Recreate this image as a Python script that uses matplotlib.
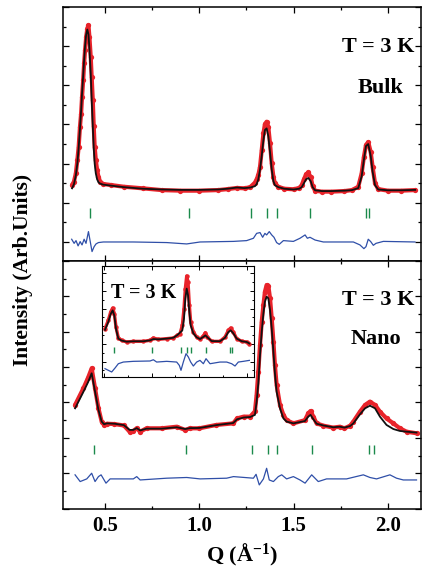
import numpy as np
import matplotlib.pyplot as plt
from matplotlib.ticker import MultipleLocator

# ---- Bulk (top panel) ----
q_bulk = [0.325, 0.335, 0.345, 0.353, 0.360, 0.367, 0.373, 0.378, 0.384, 0.389,
          0.394, 0.400, 0.406, 0.412, 0.417, 0.424, 0.429, 0.435, 0.440, 0.445,
          0.451, 0.458, 0.465, 0.474, 0.49, 0.53, 0.6, 0.7, 0.8, 0.9,
          1.0, 1.1, 1.15, 1.2, 1.24, 1.27, 1.295, 1.304, 1.313, 1.322,
          1.331, 1.340, 1.348, 1.357, 1.366, 1.375, 1.384, 1.393, 1.401, 1.419,
          1.45, 1.5, 1.53, 1.543, 1.555, 1.566, 1.578, 1.591, 1.601, 1.614,
          1.65, 1.7, 1.77, 1.81, 1.843, 1.861, 1.873, 1.884, 1.896, 1.909,
          1.919, 1.932, 1.949, 2.0, 2.07, 2.145]
obs_bulk = [2.91, 3.08, 3.5, 4.18, 4.86, 5.88, 6.56, 7.41, 8.27, 9.12,
            9.8, 10.48, 10.9, 11.07, 10.48, 9.46, 8.44, 7.24, 5.9, 4.86,
            4.18, 3.67, 3.33, 3.08, 2.96, 2.91, 2.82, 2.74, 2.65, 2.62,
            2.62, 2.65, 2.7, 2.76, 2.74, 2.8, 3.03, 3.2, 3.42, 3.84,
            4.69, 5.54, 6.02, 6.14, 5.88, 5.03, 4.01, 3.33, 2.99, 2.82,
            2.72, 2.69, 2.76, 2.9, 3.2, 3.45, 3.55, 3.3, 2.85, 2.62,
            2.57, 2.57, 2.6, 2.65, 2.82, 3.5, 4.35, 4.95, 5.1, 4.6,
            3.84, 3.0, 2.7, 2.62, 2.62, 2.65]
calc_bulk = [2.74, 2.95, 3.4, 4.0, 4.8, 5.8, 6.7, 7.6, 8.5, 9.3,
             10.0, 10.6, 10.85, 10.6, 9.9, 8.6, 7.3, 5.9, 4.8, 4.0,
             3.5, 3.2, 3.05, 2.98, 2.93, 2.88, 2.8, 2.72, 2.68, 2.66,
             2.66, 2.68, 2.72, 2.78, 2.75, 2.78, 2.85, 2.95, 3.2, 3.7,
             4.4, 5.2, 5.72, 5.8, 5.4, 4.6, 3.7, 3.1, 2.9, 2.8,
             2.72, 2.68, 2.72, 2.8, 3.0, 3.2, 3.27, 3.1, 2.8, 2.64,
             2.6, 2.6, 2.62, 2.65, 2.75, 3.35, 4.2, 4.9, 5.0, 4.4,
             3.6, 2.9, 2.68, 2.64, 2.64, 2.66]
q_bulk_diff = [0.323, 0.336, 0.346, 0.357, 0.368, 0.378, 0.389, 0.399, 0.412, 0.420,
               0.431, 0.442, 0.452, 0.465, 0.491, 0.650, 0.827, 0.933, 1.004, 1.181,
               1.251, 1.287, 1.304, 1.322, 1.336, 1.348, 1.357, 1.371, 1.384, 1.396,
               1.410, 1.424, 1.446, 1.499, 1.534, 1.561, 1.573, 1.587, 1.614, 1.658,
               1.817, 1.852, 1.873, 1.884, 1.896, 1.909, 1.923, 1.937, 1.976, 2.144]
diff_bulk = [0.14, -0.07, 0.07, -0.2, 0.02, -0.15, 0.14, -0.07, 0.53, 0.1,
             -0.49, -0.24, -0.1, -0.03, 0.0, 0.0, -0.03, -0.1, 0.0, 0.03,
             0.07, 0.19, 0.44, 0.48, 0.24, 0.44, 0.36, 0.53, 0.36, 0.24,
             -0.03, -0.12, 0.07, 0.03, 0.19, 0.36, 0.19, 0.24, 0.1, 0.0,
             0.0, -0.15, -0.34, -0.24, 0.14, 0.02, -0.17, -0.07, 0.03, 0.0]
bragg_bulk = [0.42, 0.945, 1.272, 1.357, 1.412, 1.587, 1.884, 1.90]

# ---- Nano (bottom panel) ----
q_nano = [0.341, 0.385, 0.41, 0.429, 0.447, 0.465, 0.482, 0.495, 0.51, 0.55,
          0.6, 0.63, 0.65, 0.668, 0.686, 0.72, 0.8, 0.88, 0.925, 0.95,
          1.0, 1.09, 1.18, 1.2, 1.235, 1.27, 1.295, 1.304, 1.313, 1.322,
          1.331, 1.340, 1.348, 1.357, 1.366, 1.375, 1.384, 1.393, 1.401, 1.410,
          1.428, 1.446, 1.463, 1.499, 1.56, 1.578, 1.59, 1.605, 1.622, 1.658,
          1.71, 1.745, 1.77, 1.8, 1.817, 1.852, 1.879, 1.905, 1.932, 1.958,
          1.993, 2.029, 2.064, 2.099, 2.152]
obs_nano = [3.86, 4.8, 5.4, 5.93, 4.8, 3.67, 2.92, 2.73, 2.8, 2.78,
            2.7, 2.35, 2.4, 2.54, 2.35, 2.54, 2.54, 2.63, 2.45, 2.54,
            2.54, 2.73, 2.82, 3.1, 3.2, 3.2, 3.5, 4.43, 5.74, 7.25,
            8.57, 9.51, 10.26, 10.64, 10.6, 9.9, 8.76, 7.44, 6.12, 5.0,
            3.86, 3.3, 3.0, 2.82, 3.0, 3.39, 3.52, 3.2, 2.82, 2.69,
            2.58, 2.63, 2.54, 2.69, 2.92, 3.48, 3.86, 4.05, 3.86, 3.48,
            3.1, 2.82, 2.54, 2.35, 2.26]
calc_nano = [3.67, 4.6, 5.15, 5.65, 4.61, 3.58, 2.92, 2.77, 2.82, 2.8,
             2.72, 2.45, 2.45, 2.55, 2.42, 2.52, 2.52, 2.6, 2.5, 2.55,
             2.56, 2.72, 2.84, 3.05, 3.15, 3.18, 3.3, 4.05, 5.08, 6.69,
             8.0, 9.04, 9.7, 9.98, 9.89, 9.23, 8.19, 6.87, 5.65, 4.61,
             3.67, 3.1, 2.92, 2.82, 2.95, 3.2, 3.3, 3.05, 2.8, 2.7,
             2.6, 2.63, 2.58, 2.67, 2.82, 3.33, 3.67, 3.82, 3.67, 3.2,
             2.73, 2.5, 2.39, 2.35, 2.3]
q_nano_diff = [0.341, 0.368, 0.403, 0.429, 0.447, 0.465, 0.479, 0.505, 0.527, 0.650,
               0.668, 0.686, 0.827, 0.933, 1.004, 1.145, 1.181, 1.287, 1.301, 1.318,
               1.340, 1.357, 1.371, 1.393, 1.419, 1.437, 1.463, 1.499, 1.534, 1.561,
               1.596, 1.631, 1.675, 1.781, 1.870, 1.905, 1.940, 2.011, 2.046, 2.082,
               2.152]
diff_nano = [-0.09, -0.47, -0.32, 0.0, -0.47, -0.19, -0.09, -0.56, -0.32, -0.32,
             -0.19, -0.38, -0.28, -0.24, -0.32, -0.28, -0.19, -0.28, -0.06, -0.66,
             -0.32, 0.28, -0.38, -0.47, -0.19, -0.09, -0.32, -0.19, -0.38, -0.56,
             -0.09, -0.47, -0.32, -0.32, -0.09, -0.24, -0.32, -0.09, -0.28, -0.38,
             -0.38]
bragg_nano = [0.443, 0.928, 1.281, 1.366, 1.412, 1.599, 1.90, 1.926]

# ---- Inset (nano, second data set) ----
x_inset = [10.17, 10.87, 11.37, 11.79, 12.14, 12.49, 12.98, 13.68, 14.73, 16.14,
           18.24, 19.65, 20.35, 21.4, 23.16, 24.56, 25.4, 25.96, 26.45, 26.8,
           27.08, 27.37, 27.65, 27.93, 28.21, 28.77, 29.47, 30.17, 30.88, 31.3,
           31.72, 32.63, 34.38, 35.44, 36.14, 36.63, 37.19, 37.89, 38.95, 40.0,
           40.56]
obs_inset = [3.73, 4.68, 5.63, 6.08, 5.44, 3.92, 2.67, 2.41, 2.22, 2.29,
             2.29, 2.41, 2.67, 2.52, 2.6, 2.67, 2.97, 3.16, 4.11, 6.0,
             8.28, 9.72, 9.03, 6.38, 4.49, 3.35, 2.78, 2.52, 2.9, 3.28,
             2.78, 2.29, 2.29, 2.78, 3.54, 3.81, 3.35, 2.6, 2.29, 2.22,
             2.03]
calc_inset = [3.6, 4.5, 5.4, 5.81, 5.2, 3.7, 2.6, 2.38, 2.25, 2.3,
              2.3, 2.4, 2.55, 2.52, 2.6, 2.7, 3.0, 3.28, 3.54, 4.87,
              7.14, 8.28, 7.52, 5.6, 4.1, 3.2, 2.75, 2.55, 2.8, 2.97,
              2.75, 2.32, 2.3, 2.7, 3.35, 3.54, 3.2, 2.6, 2.3, 2.22,
              2.05]
x_inset_diff = [10.17, 10.87, 11.58, 12.28, 12.98, 14.03, 16.14, 19.65, 20.35, 21.05,
                23.16, 25.26, 25.82, 26.17, 26.66, 27.23, 27.72, 28.21, 28.77, 29.47,
                30.17, 30.88, 31.44, 32.28, 34.38, 35.79, 36.84, 37.54, 38.24, 39.3,
                40.56]
diff_inset = [-0.81, -1.0, -1.19, -0.74, -0.25, -0.06, 0.02, 0.06, 0.2, -0.06,
              0.02, -0.06, -0.44, -1.0, -0.06, 0.89, 0.51, -0.06, -0.51, -0.06,
              0.13, -0.25, 0.32, -0.25, -0.06, -0.06, -0.25, -0.51, -0.06, 0.02,
              0.13]
bragg_inset = [12.07, 20.13, 26.11, 27.5, 28.22, 31.43, 36.49, 36.85]

RED = '#e8232a'
BLUE = '#2f4fa8'
GREEN = '#1b8a4c'
SERIF = 'Liberation Serif'

plt.rcParams['font.family'] = SERIF
plt.rcParams['font.weight'] = 'bold'
plt.rcParams['mathtext.fontset'] = 'custom'
plt.rcParams['mathtext.rm'] = 'Liberation Serif:bold'
plt.rcParams['mathtext.bf'] = 'Liberation Serif:bold'
plt.rcParams['mathtext.it'] = 'Liberation Serif:bold:italic'
plt.rcParams['axes.linewidth'] = 1.1

fig = plt.figure(figsize=(4.22, 5.77), dpi=100)
ax1 = fig.add_axes([0.1493, 0.5477, 0.8484, 0.4402])
ax2 = fig.add_axes([0.1493, 0.1179, 0.8484, 0.4298])


def style_axis(ax, ylim, big=True):
    ax.set_ylim(*ylim)
    ax.yaxis.set_major_locator(MultipleLocator(2))
    ax.yaxis.set_minor_locator(MultipleLocator(1))
    if big:
        ax.tick_params(which='major', direction='in', length=4.3, width=0.9,
                       top=True, right=True, labelsize=15, pad=5)
        ax.tick_params(which='minor', direction='in', length=2.2, width=0.9,
                       top=True, right=True)
    else:
        ax.tick_params(which='major', direction='in', length=2.6, width=0.7,
                       top=True, right=True)
        ax.tick_params(which='minor', direction='in', length=1.4, width=0.7,
                       top=True, right=True)
    ax.set_yticklabels([])


def draw_pattern(ax, q, obs, calc, qd, diff, bragg, blo, bhi, lw=3.0, ms=3.8):
    # observed: red dots (dense in the original, so a red band under the dots)
    ax.plot(q, obs, '-', color=RED, lw=lw, solid_capstyle='round', zorder=2)
    ax.plot(q, obs, 'o', color=RED, ms=ms, mew=0, zorder=2)
    ax.plot(q, calc, '-', color='#111111', lw=1.3, zorder=3)
    ax.plot(qd, diff, '-', color=BLUE, lw=0.9, zorder=2)
    ax.vlines(bragg, blo, bhi, color=GREEN, lw=1.0)


for ax in (ax1, ax2):
    ax.set_xlim(0.277, 2.176)
    ax.xaxis.set_major_locator(MultipleLocator(0.5))
    ax.xaxis.set_minor_locator(MultipleLocator(0.25))

style_axis(ax1, (-0.97, 12.0))
style_axis(ax2, (-2.02, 12.0))
ax1.set_xticklabels([])

draw_pattern(ax1, q_bulk, obs_bulk, calc_bulk, q_bulk_diff, diff_bulk,
             bragg_bulk, 1.21, 1.72)
draw_pattern(ax2, q_nano, obs_nano, calc_nano, q_nano_diff, diff_nano,
             bragg_nano, 1.07, 1.6)

txt = dict(ha='center', va='center', fontsize=16, fontweight='bold', family=SERIF)
ax1.text(0.88, 0.8425, 'T = 3 K', transform=ax1.transAxes, **txt)
ax1.text(0.888, 0.681, 'Bulk', transform=ax1.transAxes, **txt)
ax2.text(0.88, 0.843, 'T = 3 K', transform=ax2.transAxes, **txt)
ax2.text(0.874, 0.685, 'Nano', transform=ax2.transAxes, **txt)

ax2.set_xlabel('Q (Å$^{-1}$)', fontsize=16, fontweight='bold', labelpad=4)
fig.text(0.054, 0.532, 'Intensity (Arb.Units)', rotation=90, ha='center',
         va='center', fontsize=15.5, fontweight='bold')

# inset
axi = fig.add_axes([0.2417, 0.3466, 0.3602, 0.1924])
axi.set_xlim(9.54, 41.54)
axi.xaxis.set_major_locator(MultipleLocator(10))
axi.xaxis.set_minor_locator(MultipleLocator(5))
style_axis(axi, (-1.76, 10.85), big=False)
axi.set_xticklabels([])
for s in axi.spines.values():
    s.set_linewidth(0.8)
draw_pattern(axi, x_inset, obs_inset, calc_inset, x_inset_diff, diff_inset,
             bragg_inset, 1.0, 1.65, lw=2.4, ms=3.2)
axi.text(0.276, 0.757, 'T = 3 K', transform=axi.transAxes, ha='center',
         va='center', fontsize=14.5, fontweight='bold', family=SERIF)

fig.savefig('out.png', dpi=100)
